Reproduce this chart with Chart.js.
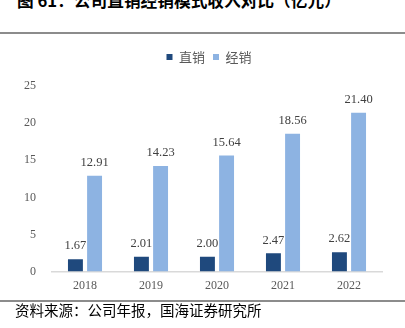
<!DOCTYPE html>
<html>
<head>
<meta charset="utf-8">
<script src="https://cdn.jsdelivr.net/npm/chart.js@4"></script>
<style>
  body { margin: 0; width: 405px; height: 328px; overflow: hidden; background: #fff; position: relative; }
  #title { position: absolute; left: 17px; top: -8px; font: bold 16.7px/16px "Noto Sans CJK SC"; color: #000; white-space: nowrap; }
  .rule { position: absolute; left: 0; width: 405px; height: 2px; background: #8c8c8c; }
  #src { position: absolute; left: 15px; top: 302px; font: 14.5px/16px "Noto Sans CJK SC"; color: #000; white-space: nowrap; }
  #chart_c { position: absolute; left: 0; top: 34px; }
</style>
</head>
<body>
<div id="title">图 61：公司直销经销模式收入对比（亿元）</div>
<div class="rule" style="top:32px"></div>
<canvas id="chart_c" width="405" height="266"></canvas>
<div class="rule" style="top:300px"></div>
<div id="src">资料来源：公司年报，国海证券研究所</div>
<script>
const years = ['2018', '2019', '2020', '2021', '2022']
const directSales = [1.67, 2.01, 2.00, 2.47, 2.62]
const dealerSales = [12.91, 14.23, 15.64, 18.56, 21.40]
const seriesNames = ['直销', '经销']
const yMax = 25
const yStep = 5

// value labels above each bar
const valueLabels = {
  id: 'valueLabels',
  afterDatasetsDraw(chart) {
    const ctx = chart.ctx
    ctx.save()
    ctx.font = '12.5px "Liberation Serif"'
    ctx.fillStyle = '#404040'
    ctx.textAlign = 'center'
    ctx.textBaseline = 'middle'
    chart.data.datasets.forEach((ds, i) => {
      chart.getDatasetMeta(i).data.forEach((bar, j) => {
        ctx.fillText(ds.data[j].toFixed(2), bar.x, bar.y - 13)
      })
    })
    ctx.restore()
  }
}

new Chart(document.getElementById('chart_c'), {
  type: 'bar',
  data: {
    labels: years,
    datasets: [
      { label: seriesNames[0], data: directSales, backgroundColor: '#1f497d' },
      { label: seriesNames[1], data: dealerSales, backgroundColor: '#8db3e2' }
    ]
  },
  options: {
    responsive: false,
    animation: false,
    devicePixelRatio: 1,
    categoryPercentage: 0.58,
    barPercentage: 0.78,
    layout: { padding: { left: 36, right: 23, top: 8.5, bottom: 0 } },
    plugins: {
      tooltip: { enabled: false },
      legend: {
        position: 'top',
        labels: {
          boxWidth: 6,
          boxHeight: 6,
          padding: 8,
          color: '#595959',
          font: { family: '"Noto Sans CJK SC"', size: 13 }
        }
      },
      // empty spacer between legend and plot
      subtitle: {
        display: true,
        text: '',
        weight: 500,
        font: { size: 10, lineHeight: 1 },
        padding: { top: 2.5, bottom: 0 }
      }
    },
    scales: {
      x: {
        grid: { display: false, drawTicks: false },
        border: { color: '#d9d9d9', width: 1.5 },
        ticks: { color: '#595959', padding: 7, font: { family: '"Liberation Serif"', size: 12 } }
      },
      y: {
        min: 0,
        max: yMax,
        grid: { display: false, drawTicks: false },
        border: { display: false },
        // labels sit left of the narrow axis box, so mirror them to avoid clipping
        ticks: { stepSize: yStep, mirror: true, crossAlign: 'far', padding: -28, color: '#595959', font: { family: '"Liberation Serif"', size: 12 } },
        afterFit: (s) => { s.width = 16 }
      }
    }
  },
  plugins: [valueLabels]
})
</script>
</body>
</html>
